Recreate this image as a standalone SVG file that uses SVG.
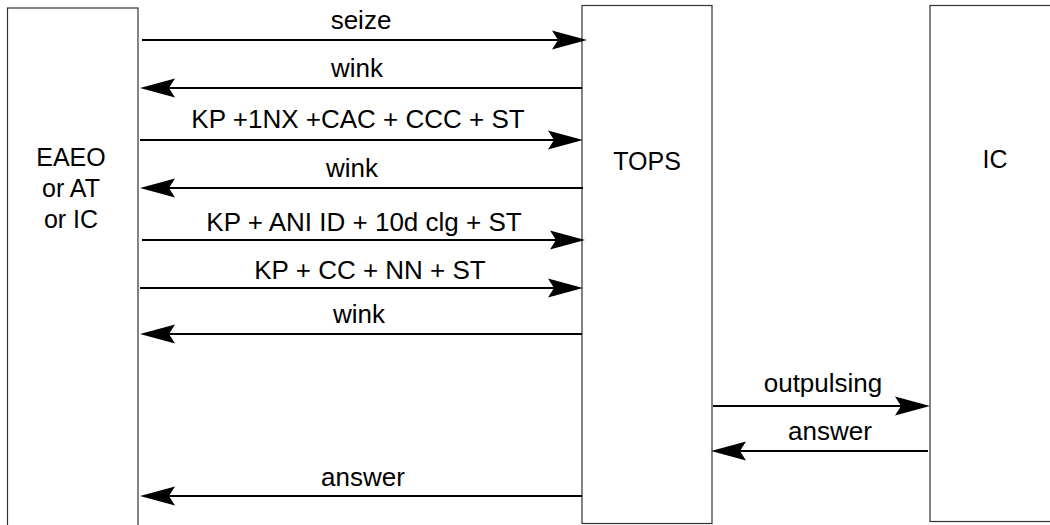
<svg xmlns="http://www.w3.org/2000/svg" width="1050" height="525" viewBox="0 0 1050 525">
<defs>
<style>
.box{fill:#fff;stroke:#333;stroke-width:1.2}
.lbl{font-family:"Liberation Sans",Arial,sans-serif;font-size:26px;fill:#000;text-anchor:middle}
.node{font-family:"Liberation Sans",Arial,sans-serif;font-size:25px;fill:#000;text-anchor:middle}
.msg{fill:none;stroke:#000;stroke-width:2;marker-end:url(#ah)}
</style>
<marker id="ah" markerUnits="userSpaceOnUse" markerWidth="40" markerHeight="22" viewBox="0 -11 40 22" refX="6" refY="0" orient="auto">
<path d="M0,-9.5 L35,0 L0,9.5 L6,0 Z" fill="#000"/>
</marker>
</defs>
<rect width="1050" height="525" fill="#fff"/>
<g id="node-eaeo">
<rect class="box" x="7.5" y="8" width="130.5" height="530"/>
<text class="node" x="71" y="166">EAEO</text>
<text class="node" x="71" y="197">or AT</text>
<text class="node" x="71" y="228">or IC</text>
</g>
<g id="node-tops">
<rect class="box" x="582" y="5.5" width="130" height="518"/>
<text class="node" x="647" y="170">TOPS</text>
</g>
<g id="node-ic">
<rect class="box" x="930" y="5.5" width="140" height="516"/>
<text class="node" x="995" y="168">IC</text>
</g>
<g id="connectors">
<path class="msg" d="M142,40 H558"/>
<path class="msg" d="M582,88 H169"/>
<path class="msg" d="M140,140 H554"/>
<path class="msg" d="M583,188 H169"/>
<path class="msg" d="M142,240 H556"/>
<path class="msg" d="M140,288 H554"/>
<path class="msg" d="M582,334 H169"/>
<path class="msg" d="M713,406 H901"/>
<path class="msg" d="M928,451 H740"/>
<path class="msg" d="M582,496 H169"/>
<text class="lbl" x="361" y="29">seize</text>
<text class="lbl" x="357" y="77">wink</text>
<text class="lbl" x="358" y="128">KP +1NX +CAC + CCC + ST</text>
<text class="lbl" x="352" y="177">wink</text>
<text class="lbl" x="364" y="231">KP + ANI ID + 10d clg + ST</text>
<text class="lbl" x="370" y="279">KP + CC + NN + ST</text>
<text class="lbl" x="359" y="323">wink</text>
<text class="lbl" x="823" y="392">outpulsing</text>
<text class="lbl" x="830" y="440">answer</text>
<text class="lbl" x="363" y="486">answer</text>
</g>
</svg>
